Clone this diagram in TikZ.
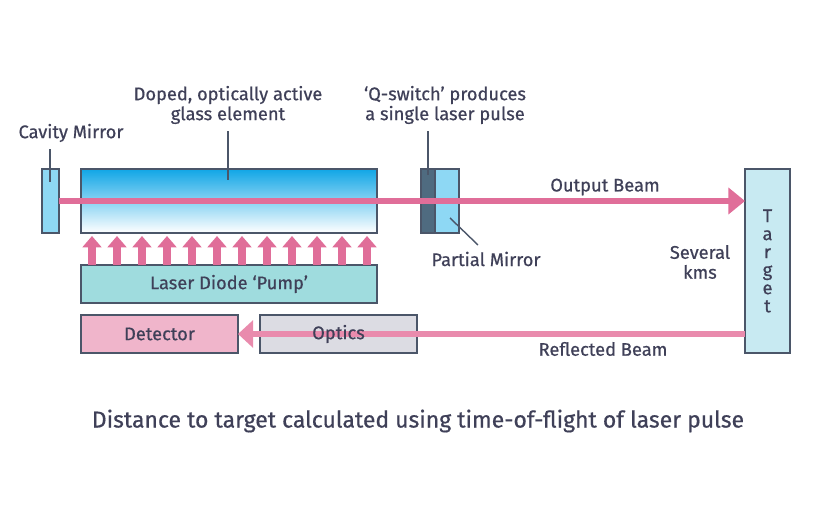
\documentclass[tikz,border=0pt]{standalone}
\usepackage{fontspec}
\setmainfont{Fira Sans}[FakeBold=0.6, UprightFeatures={FakeBold=0.6}]
\usetikzlibrary{arrows.meta}
\definecolor{txt}{HTML}{3F4058}
\definecolor{edge}{HTML}{4B5669}
\definecolor{beampink}{HTML}{E06E99}
\definecolor{backpink}{HTML}{E98BAD}
\definecolor{glasstop}{HTML}{10A6E6}
\definecolor{mirrorfill}{HTML}{8ED8F4}
\definecolor{qdark}{HTML}{4F6B80}
\definecolor{targetfill}{HTML}{C8EAF2}
\definecolor{pumpfill}{HTML}{9FDCDE}
\definecolor{detfill}{HTML}{F0B5CB}
\definecolor{opticsfill}{HTML}{DCDCE3}
\begin{document}
\begin{tikzpicture}[x=0.03cm, y=0.03cm,
		box/.style={draw=edge, line width=1.2pt, inner sep=0pt, outer sep=0pt},
		lbl/.style={text=txt, font=\fontsize{15.6}{17}\selectfont, align=center, inner sep=0pt},
		leader/.style={draw=edge, line width=1.2pt},
		beam/.style={draw=beampink, line width=4.6pt, -{Triangle[length=0.5cm, width=0.78cm]}},
		backbeam/.style={draw=backpink, line width=4.6pt, -{Triangle[length=0.45cm, width=0.8cm]}},
		pumparrow/.style={draw=beampink, line width=6.6pt, -{Triangle[length=0.34cm, width=0.56cm]}}]
		\useasboundingbox[fill=white] (0,0) rectangle (820,506);

		% optical parts
		\node[box, fill=mirrorfill, minimum width=0.51cm, minimum height=1.92cm] (mirror) at (50.5,305) {};
		\node[box, top color=glasstop, bottom color=white, minimum width=8.88cm, minimum height=1.92cm] (glass) at (229,305) {};
		\node[box, fill=qdark, minimum width=0.42cm, minimum height=1.92cm] (qswitch) at (428,305) {};
		\node[box, fill=mirrorfill, minimum width=0.72cm, minimum height=1.92cm] (partial) at (447,305) {};
		\node[box, fill=targetfill, minimum width=1.35cm, minimum height=5.52cm] (target) at (767.5,245) {};
		\node[lbl, font=\fontsize{15.6}{15.4}\selectfont] (targetlbl) at (target.center) {T\\a\\r\\g\\e\\t};

		% pump, detector, optics
		\node[box, fill=pumpfill, minimum width=8.88cm, minimum height=1.14cm] (pump) at (229,222) {};
		\node[lbl] (pumplbl) at (pump.center) {Laser Diode ‘Pump’};
		\node[box, fill=detfill, minimum width=4.71cm, minimum height=1.14cm] (detector) at (159.5,172) {};
		\node[lbl] (detlbl) at (detector.center) {Detector};
		\node[box, fill=opticsfill, minimum width=4.71cm, minimum height=1.14cm] (optics) at (338.5,172) {};

		% beams
		\draw[beam] (mirror.east) -- (target.west |- mirror.east);
		\draw[backbeam] (target.west |- detector.east) -- (detector.east);
		\node[lbl] (opticslbl) at (optics.center) {Optics};
		\foreach \i in {0,...,11}
			\draw[pumparrow] ([xshift=0.33cm+0.75cm*\i]pump.north west) -- ([xshift=0.33cm+0.75cm*\i, yshift=-0.09cm]glass.south west);

		% labels
		\node[lbl] (cavlbl) at (71,373) {Cavity Mirror};
		\node[lbl] (glasslbl) at (228,401) {Doped, optically active\\glass element};
		\node[lbl] (qlbl) at (445,401) {‘Q-switch’ produces\\a single laser pulse};
		\node[lbl] (partlbl) at (486,247) {Partial Mirror};
		\node[lbl] (outlbl) at (605,319) {Output Beam};
		\node[lbl] (kmslbl) at (700,244) {Several\\kms};
		\node[lbl] (reflbl) at (603,157) {Reflected Beam};
		\node[lbl, font=\fontsize{19.6}{22}\selectfont] (caption) at (418,85) {Distance to target calculated using time-of-flight of laser pulse};

		% leader lines
		\coordinate (mirrorpt) at (50,324);
		\coordinate (glasspt) at (228,326);
		\coordinate (qpt) at (428,331);
		\coordinate (partpt) at (450,288);
		\draw[leader] (mirrorpt |- cavlbl.south) ++(0,-7) -- (mirrorpt);
		\draw[leader] (glasslbl.south) ++(0,-7) -- (glasspt);
		\draw[leader] (qpt |- qlbl.south) ++(0,-7) -- (qpt);
		\draw[leader] (partpt) -- (478,261);
	\end{tikzpicture}
\end{document}
